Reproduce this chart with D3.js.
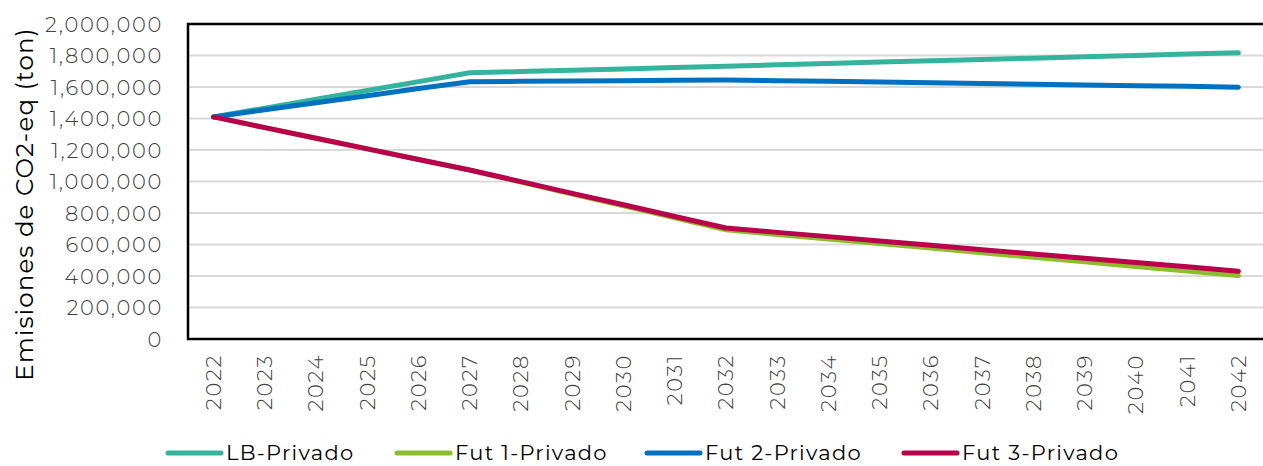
<!DOCTYPE html>
<html><head><meta charset="utf-8">
<script src="https://cdn.jsdelivr.net/npm/d3@7"></script>
<style>body{margin:0;background:#fff;overflow:hidden}svg{display:block}</style>
</head><body>
<svg id="c" width="1263" height="466"></svg>
<script>
const years = ["2022","2023","2024","2025","2026","2027","2028","2029","2030","2031","2032","2033","2034","2035","2036","2037","2038","2039","2040","2041","2042"];
const seriesNames = ["LB-Privado","Fut 1-Privado","Fut 2-Privado","Fut 3-Privado"];
const lbPrivado = [1410000,1466000,1522000,1578000,1634000,1690000,1698000,1707000,1715000,1724000,1732000,1741000,1749000,1758000,1766000,1775000,1783000,1792000,1800000,1809000,1817000];
const fut1Privado = [1410000,1342000,1275000,1207000,1140000,1072000,996000,920000,845000,770000,693000,664000,635000,606000,577000,548000,519000,490000,461000,432000,403000];
const fut2Privado = [1410000,1455000,1500000,1545000,1590000,1633000,1636000,1638000,1640000,1643000,1645000,1640000,1636000,1631000,1627000,1622000,1617000,1613000,1608000,1604000,1599000];
const fut3Privado = [1410000,1342000,1275000,1207000,1140000,1073000,999000,925000,852000,778000,705000,677000,650000,622000,595000,567000,540000,513000,485000,458000,430000];
const yTicks = [0,200000,400000,600000,800000,1000000,1200000,1400000,1600000,1800000,2000000];
const colors = ["#35b39c","#8cbd2b","#0070c0","#b8004d"];
const yTitle = "Emisiones de CO2-eq (ton)";

const svg = d3.select("#c");
const L=188, T=24, R=1264, B=339;
const font = "Montserrat, 'Open Sans', sans-serif";
const x = d3.scaleBand().domain(years).range([L,R]);
const y = d3.scaleLinear().domain([0,2000000]).range([B,T]);

// gridlines
svg.append("g").selectAll("line").data(yTicks.slice(1)).join("line")
  .attr("x1",L).attr("x2",1263).attr("y1",d=>y(d)).attr("y2",d=>y(d))
  .attr("stroke","#d9d9d9").attr("stroke-width",2);

// y axis
const yAxis = svg.append("g").attr("transform",`translate(${L-22},0)`)
  .call(d3.axisLeft(y).tickValues(yTicks).tickSize(0).tickFormat(d3.format(",")));
yAxis.select(".domain").remove();
yAxis.selectAll("text").attr("font-family",font).attr("font-weight",300).attr("font-size",21)
  .attr("letter-spacing","1.7px")
  .attr("fill","#404040").attr("dx",0).attr("dy","0.35em");

// x axis
const xAxis = svg.append("g").attr("transform",`translate(0,${B})`)
  .call(d3.axisBottom(x).tickSize(0));
xAxis.select(".domain").remove();
xAxis.selectAll("text").attr("font-family",font).attr("font-weight",300).attr("font-size",21)
  .attr("letter-spacing","1.7px")
  .attr("fill","#404040").attr("transform","rotate(-90)")
  .attr("text-anchor","end").attr("x",-15).attr("y",0).attr("dy","0.35em");

// border (left, top, bottom)
svg.append("path").attr("d",`M${R},${T}H${L}V${B}H${R}`).attr("fill","none")
  .attr("stroke","#000").attr("stroke-width",2.5);

// y title
svg.append("text").attr("transform",`translate(33,204) rotate(-90)`)
  .attr("text-anchor","middle").attr("font-family",font).attr("font-size",24.5)
  .attr("letter-spacing","1.1px")
  .attr("fill","#000").text(yTitle);

// lines
const data = [lbPrivado,fut1Privado,fut2Privado,fut3Privado];
const line = d3.line().x((d,i)=>x(years[i])+x.bandwidth()/2).y(d=>y(d));
svg.append("g").selectAll("path").data(data).join("path")
  .attr("d",line).attr("fill","none").attr("stroke",(d,i)=>colors[i])
  .attr("stroke-width",5).attr("stroke-linecap","round").attr("stroke-linejoin","round");

// legend
const legX = [168,397,647,904];
const lg = svg.append("g").selectAll("g").data(seriesNames).join("g")
  .attr("transform",(d,i)=>`translate(${legX[i]},453)`);
lg.append("line").attr("x1",0).attr("x2",53).attr("stroke",(d,i)=>colors[i])
  .attr("stroke-width",5).attr("stroke-linecap","round");
lg.append("text").attr("x",58).attr("dy","0.33em").attr("font-family",font)
  .attr("font-size",21).attr("letter-spacing","1.3px").attr("fill","#000").text(d=>d);
</script>
</body></html>
